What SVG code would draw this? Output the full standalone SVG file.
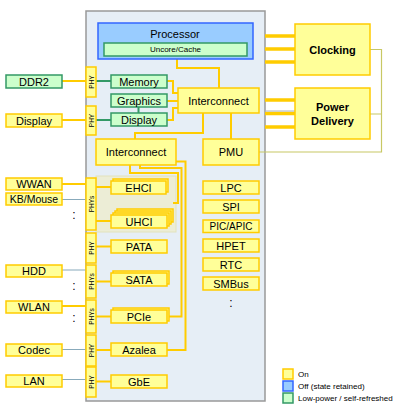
<svg xmlns="http://www.w3.org/2000/svg" width="400" height="405" viewBox="0 0 400 405">
<style>
.y{fill:#ffff99;stroke:#ffcc00;stroke-width:1.5}
.g{fill:#ccffcc;stroke:#339966;stroke-width:1.5}
.b{fill:#99ccff;stroke:#3366ff;stroke-width:1.5}
text{font-family:"Liberation Sans",Arial,sans-serif;fill:#000}
.t{font-size:11px;text-anchor:middle;dominant-baseline:central}
.bt{font-size:11px;font-weight:bold;text-anchor:middle;dominant-baseline:central}
.p{font-size:6.5px;text-anchor:middle;dominant-baseline:central}
.s{font-size:8px;dominant-baseline:central}
.c{fill:none;stroke:#ffcc00;stroke-width:2}
.ct{fill:none;stroke:#ffcc00;stroke-width:3.5}
.cg{fill:none;stroke:#339966;stroke-width:2}
.cb{fill:none;stroke:#88aabb;stroke-width:1.2}
.co{fill:none;stroke:#c8c864;stroke-width:1.2}
.d{font-size:12px;text-anchor:middle}
</style>
<rect id="chip" x="86" y="11" width="179" height="390" fill="#e6eef6" stroke="#999999" stroke-width="1.5"/>
<rect id="usbgroup" x="96" y="176" width="80" height="56" fill="#ecedd6" stroke="#e2e2bc" stroke-width="1"/>
<g id="connectors">
<path class="ct" d="M265,36H295M265,49H295M265,62H295M265,100H295M265,113.5H295M265,127H295"/>
<path d="M265,111H295" fill="none" stroke="#aab4c0" stroke-width="1"/>
<path class="co" d="M370,49.5H381.5V152H259M370,114H381.5"/>
<path class="c" d="M177,59V68H219V88"/>
<path class="c" d="M231,113V139"/>
<path class="c" d="M203,113V133H135V139"/>
<path class="c" d="M167,81H173V93H178"/>
<path class="c" d="M167,101H178"/>
<path class="c" d="M167,120H173V108H178"/>
<path class="c" d="M176,161.5H185.5V350H167"/>
<path class="c" d="M140,165V168H181.5V316.5H167"/>
<path class="c" d="M130,165V173H178V203H173"/>
<path class="c" d="M62,81H86M62,120H86M62,184H86M62,306H86"/>
<path class="cg" d="M96,81H111M96,120H111M138.5,107V113"/>
<path class="c" d="M96,187H111M96,221H111M96,246.5H111M96,281.5H111M96,316.5H111M96,350H111M96,381.5H111"/>
<path class="cb" d="M62,199.5H86M62,270H86M62,349.5H86M62,379.5H86"/>
</g>
<g id="processor"><rect class="b" x="98" y="23" width="155" height="36"/><text class="t" x="175" y="34">Processor</text></g>
<g id="uncore"><rect class="g" x="104" y="43" width="143" height="13"/><text class="t" style="font-size:8px" x="175.5" y="49.5">Uncore/Cache</text></g>
<g id="clocking"><rect class="y" x="295" y="24" width="75" height="51"/><text class="bt" x="332.5" y="49.5">Clocking</text></g>
<g id="power"><rect class="y" x="295" y="88" width="75" height="51"/><text class="bt" x="332.5" y="107">Power</text><text class="bt" x="332.5" y="120.5">Delivery</text></g>
<g id="interconnect1"><rect class="y" x="178" y="88" width="81" height="25"/><text class="t" x="218.5" y="100.5">Interconnect</text></g>
<g id="pmu"><rect class="y" x="203" y="139" width="56" height="26"/><text class="t" x="231" y="152">PMU</text></g>
<g id="memory"><rect class="g" x="111" y="75" width="56" height="13"/><text class="t" x="139" y="81.5">Memory</text></g>
<g id="graphics"><rect class="g" x="111" y="94" width="56" height="13"/><text class="t" x="139" y="100.5">Graphics</text></g>
<g id="display"><rect class="g" x="111" y="113" width="56" height="13"/><text class="t" x="139" y="119.5">Display</text></g>
<g id="phy1"><rect class="y" x="86" y="67" width="10" height="30"/><text class="p" transform="rotate(-90 91 82)" x="91" y="82">PHY</text></g>
<g id="phy2"><rect class="y" x="86" y="106" width="10" height="29"/><text class="p" transform="rotate(-90 91 120.5)" x="91" y="120.5">PHY</text></g>
<g id="ddr2"><rect class="g" x="6" y="75" width="56" height="13"/><text class="t" x="34" y="81.5">DDR2</text></g>
<g id="display-ext"><rect class="y" x="6" y="114" width="56" height="13"/><text class="t" x="34" y="120.5">Display</text></g>
<g id="interconnect2"><rect class="y" x="96" y="139" width="80" height="26"/><text class="t" x="136" y="152">Interconnect</text></g>
<g id="phys-usb"><rect class="y" x="86" y="178" width="10" height="52"/><text class="p" transform="rotate(-90 91 204)" x="91" y="204">PHYs</text></g>
<g id="ehci"><rect class="y" x="113" y="179" width="55" height="13"/><rect class="y" x="111" y="181" width="55" height="13"/><text class="t" x="138.5" y="187.5">EHCI</text></g>
<g id="uhci"><rect class="y" x="117" y="209" width="56" height="13"/><rect class="y" x="115" y="211" width="56" height="13"/><rect class="y" x="113" y="213" width="56" height="13"/><rect class="y" x="111" y="215" width="56" height="13"/><text class="t" x="139" y="221.5">UHCI</text></g>
<g id="wwan"><rect class="y" x="6" y="178" width="56" height="12"/><text class="t" x="34" y="184">WWAN</text></g>
<g id="kbmouse"><rect class="y" x="6" y="193" width="56" height="12"/><text class="t" style="font-size:10.5px" x="34" y="199">KB/Mouse</text></g>
<g id="phy-pata"><rect class="y" x="86" y="233" width="10" height="30"/><text class="p" transform="rotate(-90 91 248)" x="91" y="248">PHY</text></g>
<g id="pata"><rect class="y" x="111" y="240" width="56" height="13"/><text class="t" x="139" y="246.5">PATA</text></g>
<g id="hdd"><rect class="y" x="6" y="265" width="56" height="12"/><text class="t" x="34" y="271">HDD</text></g>
<g id="phys-sata"><rect class="y" x="86" y="265" width="10" height="33"/><text class="p" transform="rotate(-90 91 281.5)" x="91" y="281.5">PHYs</text></g>
<g id="sata"><rect class="y" x="113" y="271" width="56" height="13"/><rect class="y" x="111" y="273" width="56" height="13"/><text class="t" x="139" y="279.5">SATA</text></g>
<g id="wlan"><rect class="y" x="6" y="301" width="56" height="12"/><text class="t" x="34" y="307">WLAN</text></g>
<g id="phys-pcie"><rect class="y" x="86" y="300" width="10" height="33"/><text class="p" transform="rotate(-90 91 316.5)" x="91" y="316.5">PHYs</text></g>
<g id="pcie"><rect class="y" x="113" y="308" width="56" height="13"/><rect class="y" x="111" y="310" width="56" height="13"/><text class="t" x="139" y="316.5">PCIe</text></g>
<g id="codec"><rect class="y" x="6" y="344" width="56" height="12"/><text class="t" x="34" y="350">Codec</text></g>
<g id="phy-azalea"><rect class="y" x="86" y="335" width="10" height="31"/><text class="p" transform="rotate(-90 91 350.5)" x="91" y="350.5">PHY</text></g>
<g id="azalea"><rect class="y" x="111" y="343" width="56" height="13"/><text class="t" x="139" y="349.5">Azalea</text></g>
<g id="lan"><rect class="y" x="6" y="375" width="56" height="12"/><text class="t" x="34" y="381">LAN</text></g>
<g id="phy-gbe"><rect class="y" x="86" y="367" width="10" height="30"/><text class="p" transform="rotate(-90 91 382)" x="91" y="382">PHY</text></g>
<g id="gbe"><rect class="y" x="111" y="375" width="56" height="13"/><text class="t" x="139" y="381.5">GbE</text></g>
<g id="lpc"><rect class="y" x="203" y="181" width="56" height="13"/><text class="t" x="231" y="187.5">LPC</text></g>
<g id="spi"><rect class="y" x="203" y="200" width="56" height="13"/><text class="t" x="231" y="206.5">SPI</text></g>
<g id="picapic"><rect class="y" x="203" y="220" width="56" height="12.5"/><text class="t" style="font-size:10px" x="231" y="226.3">PIC/APIC</text></g>
<g id="hpet"><rect class="y" x="203" y="239" width="56" height="13"/><text class="t" x="231" y="245.5">HPET</text></g>
<g id="rtc"><rect class="y" x="203" y="258" width="56" height="13"/><text class="t" x="231" y="264.5">RTC</text></g>
<g id="smbus"><rect class="y" x="203" y="277" width="56" height="13"/><text class="t" x="231" y="283.5">SMBus</text></g>
<text class="d" x="74" y="219">:</text>
<text class="d" x="74" y="290">:</text>
<text class="d" x="74" y="322">:</text>
<text class="d" x="231" y="307">:</text>
<g id="legend">
<rect class="y" x="283" y="369" width="10" height="10"/><text class="s" x="298" y="374">On</text>
<rect class="b" x="283" y="381" width="10" height="10"/><text class="s" x="298" y="386">Off (state retained)</text>
<rect class="g" x="283" y="393" width="10" height="10"/><text class="s" x="298" y="398">Low-power / self-refreshed</text>
</g>
</svg>
